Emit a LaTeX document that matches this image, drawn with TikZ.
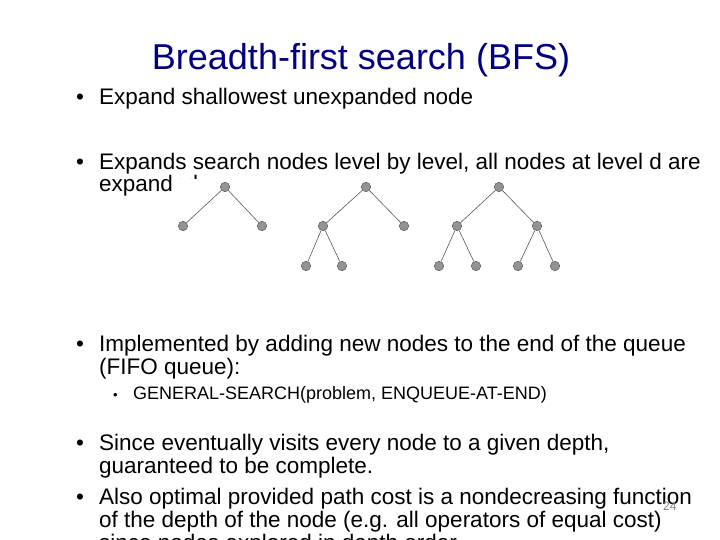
\documentclass[tikz,border=0pt]{standalone}
\usepackage{fontspec}
\setmainfont{Liberation Sans}
\begin{document}
\begin{tikzpicture}[x=1pt,y=-1pt,
    txt/.style={anchor=base west, inner sep=0pt, font=\fontsize{22.5}{26}\selectfont},
    vtx/.style={circle, fill=gray!85, draw=gray!60!black, line width=0.4pt, minimum size=9.5pt, inner sep=0pt},
    edge/.style={draw=gray!70!black, line width=0.6pt}]
  \useasboundingbox (0,0) rectangle (720,540);

  % Titel
  \node[anchor=base, inner sep=0pt, font=\fontsize{36}{40}\selectfont, text=blue!50!black] (title) at (361,70) {Breadth-first search (BFS)};

  % Punkte
  \node[txt] (b1) at (76,105) {\textbullet};
  \node[txt] (l1) at (99,105) {Expand shallowest unexpanded node};
  \node[txt] (b2) at (76,170) {\textbullet};
  \node[txt] (l2) at (99,170) {Expands search nodes level by level, all nodes at level d are};
  \node[txt] (l2b) at (99,192) {expanded};

  % Baeume (weisser Hintergrund)
  \fill[white] (174,179) rectangle (565,275);
  \node[vtx] (r1) at (225,187) {};
  \node[vtx] (a1) at (183,226) {};
  \node[vtx] (a2) at (262,226) {};
  \draw[edge] (r1) -- (a1) (r1) -- (a2);

  \node[vtx] (r2) at (366,187) {};
  \node[vtx] (c1) at (323,226) {};
  \node[vtx] (c2) at (404,226) {};
  \node[vtx] (c3) at (306,266) {};
  \node[vtx] (c4) at (342,266) {};
  \draw[edge] (r2) -- (c1) (r2) -- (c2) (c1) -- (c3) (c1) -- (c4);

  \node[vtx] (r3) at (499,187) {};
  \node[vtx] (d1) at (457,226) {};
  \node[vtx] (d2) at (537,226) {};
  \node[vtx] (d3) at (439,266) {};
  \node[vtx] (d4) at (476,266) {};
  \node[vtx] (d5) at (518,266) {};
  \node[vtx] (d6) at (555,266) {};
  \draw[edge] (r3) -- (d1) (r3) -- (d2) (d1) -- (d3) (d1) -- (d4) (d2) -- (d5) (d2) -- (d6);

  \node[txt] (b3) at (76,351) {\textbullet};
  \node[txt] (l3) at (99,351) {Implemented by adding new nodes to the end of the queue};
  \node[txt] (l3b) at (99,374) {(FIFO queue):};
  \node[txt, font=\fontsize{13}{15}\selectfont] (b4) at (113,399) {\textbullet};
  \node[txt, font=\fontsize{18}{20}\selectfont] (l4) at (133,399) {GENERAL-SEARCH(problem, ENQUEUE-AT-END)};

  \node[txt] (b5) at (76,450) {\textbullet};
  \node[txt] (l5) at (99,450) {Since eventually visits every node to a given depth,};
  \node[txt] (l5b) at (99,473) {guaranteed to be complete.};
  \node[txt] (b6) at (76,504) {\textbullet};
  \node[txt] (l6) at (99,504) {Also optimal provided path cost is a nondecreasing function};
  \node[txt] (l6b) at (99,527) {of the depth of the node (e.g. all operators of equal cost)};
  \node[txt] (l6c) at (99,550) {since nodes explored in depth order};

  % Seitenzahl
  \node[anchor=base west, inner sep=0pt, font=\fontsize{12}{14}\selectfont, text=gray] (pg) at (663,510) {24};
\end{tikzpicture}
\end{document}
